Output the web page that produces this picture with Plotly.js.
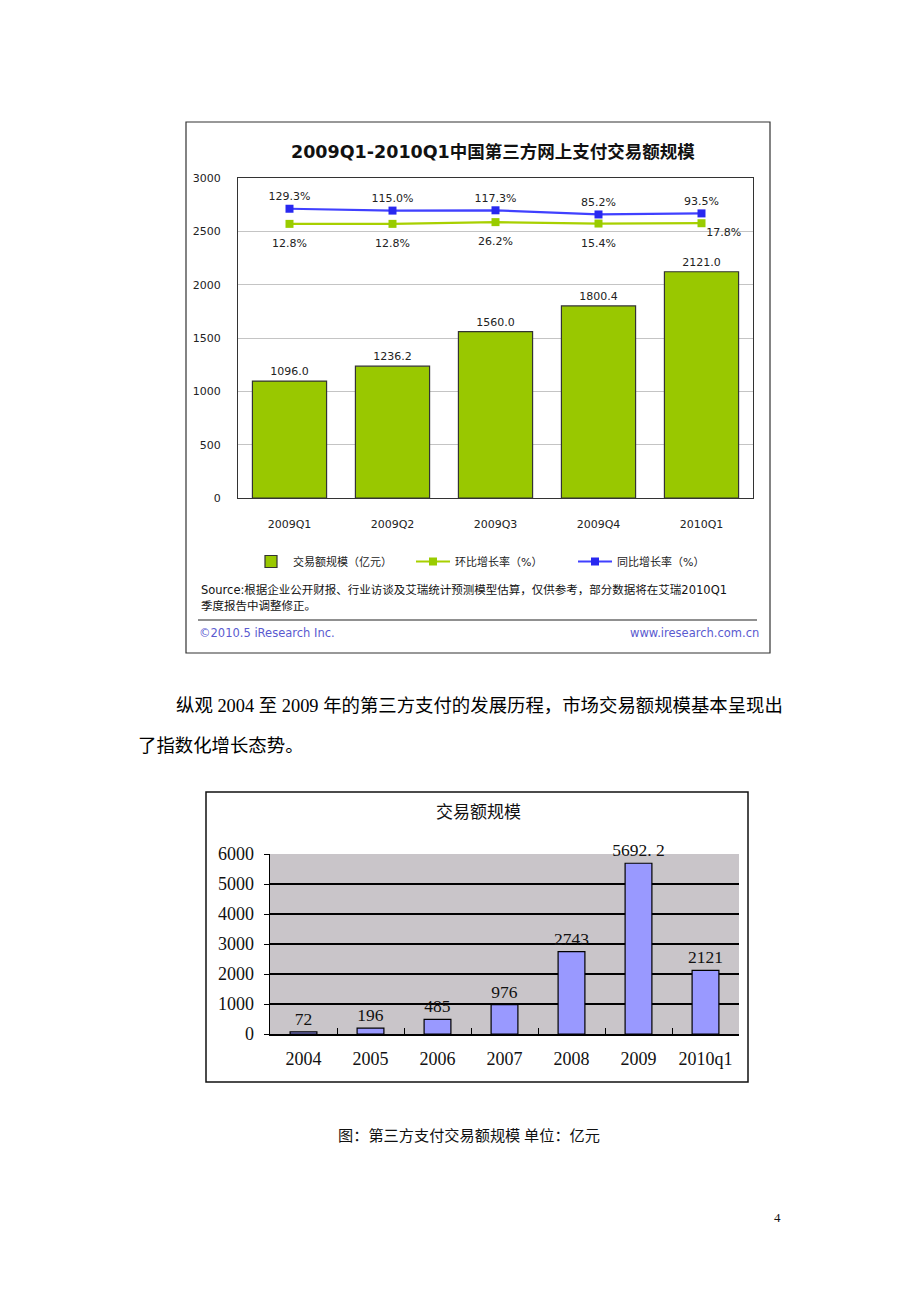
<!DOCTYPE html>
<html>
<head>
<meta charset="utf-8">
<script src="https://cdn.plot.ly/plotly-3.0.1.min.js"></script>
<style>
html,body{margin:0;padding:0;background:#fff;}
#chart{width:920px;height:1302px;}
</style>
</head>
<body>
<div id="chart"></div>
<script>
// ---- data: top chart ----
const quarters = ['2009Q1', '2009Q2', '2009Q3', '2009Q4', '2010Q1'];
const volume = [1096.0, 1236.2, 1560.0, 1800.4, 2121.0];
const qoqRate = [12.8, 12.8, 26.2, 15.4, 17.8];
const yoyRate = [129.3, 115.0, 117.3, 85.2, 93.5];
const topYTicks = [0, 500, 1000, 1500, 2000, 2500, 3000];

// ---- data: bottom chart ----
const years = ['2004', '2005', '2006', '2007', '2008', '2009', '2010q1'];
const annual = [72, 196, 485, 976, 2743, 5692.2, 2121];
const annualLabels = ['72', '196', '485', '976', '2743', '5692. 2', '2121'];
const bottomYTicks = [0, 1000, 2000, 3000, 4000, 5000, 6000];

const W = 920, H = 1302;
const px = x => x / W;
const py = y => 1 - y / H;

const sansFont = 'DejaVu Sans, Noto Sans CJK SC, sans-serif';
const serifFont = 'Liberation Serif, Noto Sans CJK SC, serif';

const traces = [
  {
    type: 'bar', name: '交易额规模（亿元）', x: quarters, y: volume,
    xaxis: 'x', yaxis: 'y', width: 0.72,
    marker: {color: '#99C800', line: {color: '#333333', width: 1.2}},
    text: volume.map(v => v.toFixed(1)), textposition: 'outside', constraintext: 'none',
    textfont: {family: sansFont, size: 11, color: '#222'}, cliponaxis: false,
    hoverinfo: 'none'
  },
  {
    type: 'scatter', mode: 'lines+markers', name: '环比增长率（%）',
    x: quarters, y: qoqRate, xaxis: 'x', yaxis: 'y3',
    line: {color: '#A8D000', width: 2.2},
    marker: {symbol: 'square', size: 8, color: '#99CC00', line: {width: 0}},
    hoverinfo: 'none'
  },
  {
    type: 'scatter', mode: 'lines+markers+text', name: '同比增长率（%）',
    x: quarters, y: yoyRate, xaxis: 'x', yaxis: 'y3',
    line: {color: '#4040FF', width: 2.2},
    marker: {symbol: 'square', size: 8, color: '#2828F0', line: {width: 0}},
    text: yoyRate.map(v => v.toFixed(1) + '%'),
    textposition: 'top center',
    textfont: {family: sansFont, size: 11, color: '#222'}, cliponaxis: false,
    hoverinfo: 'none'
  },
  {
    // labels for the 环比 series, pushed further below the points
    type: 'scatter', mode: 'markers+text', showlegend: false,
    x: quarters, y: qoqRate, xaxis: 'x', yaxis: 'y3',
    marker: {size: [22, 22, 22, 22, 6], color: 'rgba(0,0,0,0)', opacity: 0, line: {width: 0}},
    text: qoqRate.map(v => v.toFixed(1) + '%'),
    textposition: ['bottom center', 'bottom center', 'bottom center', 'bottom center', 'bottom right'],
    textfont: {family: sansFont, size: 11, color: '#222'}, cliponaxis: false,
    hoverinfo: 'none'
  },
  {
    type: 'bar', name: '交易额规模', x: years, y: annual,
    xaxis: 'x2', yaxis: 'y2', width: 0.4, showlegend: false,
    marker: {color: '#9999FF', line: {color: '#000', width: 1.2}},
    text: annualLabels, textposition: 'outside', constraintext: 'none',
    textfont: {family: serifFont, size: 17.5, color: '#111'}, cliponaxis: false,
    hoverinfo: 'none'
  }
];

const ann = (text, x, y, opts) => Object.assign({
  text: text, x: px(x), y: py(y), xref: 'paper', yref: 'paper',
  showarrow: false, xanchor: 'left', yanchor: 'middle',
  font: {family: sansFont, size: 12, color: '#111'}
}, opts || {});

const layout = {
  width: W, height: H,
  margin: {l: 0, r: 0, t: 0, b: 0},
  paper_bgcolor: '#fff', plot_bgcolor: 'rgba(0,0,0,0)',
  showlegend: true,
  legend: {
    orientation: 'h', x: px(249), y: py(547), xanchor: 'left', yanchor: 'top',
    font: {family: sansFont, size: 11, color: '#222'},
    traceorder: 'normal', entrywidth: 113, entrywidthmode: 'pixels',
    bgcolor: 'rgba(0,0,0,0)', itemwidth: 34
  },
  xaxis: {
    type: 'category',
    domain: [px(238), px(753)], anchor: 'y',
    showline: true, linecolor: '#333', linewidth: 1, mirror: true,
    showgrid: false, ticks: '', ticklabelstandoff: 16,
    tickfont: {family: sansFont, size: 11, color: '#222'},
    fixedrange: true
  },
  yaxis: {
    domain: [py(498), py(178)], anchor: 'x', range: [0, 3000],
    tickvals: topYTicks, ticktext: topYTicks.map(String),
    showline: true, linecolor: '#333', linewidth: 1, mirror: true,
    showgrid: true, gridcolor: '#C4C4C4', gridwidth: 1, zeroline: false,
    ticks: '', ticklabelstandoff: 14,
    tickfont: {family: sansFont, size: 11, color: '#222'},
    fixedrange: true
  },
  yaxis3: {
    overlaying: 'y', anchor: 'x', range: [-2098, 366], visible: false,
    fixedrange: true
  },
  xaxis2: {
    type: 'category',
    domain: [px(270), px(739)], anchor: 'y2',
    showline: true, linecolor: '#000', linewidth: 1.5,
    showgrid: false, ticks: 'inside', tickson: 'boundaries', ticklen: 6,
    tickcolor: '#000', ticklabelstandoff: 8,
    tickfont: {family: serifFont, size: 18, color: '#111'},
    fixedrange: true
  },
  yaxis2: {
    domain: [py(1034), py(854)], anchor: 'x2', range: [0, 6000],
    tickvals: bottomYTicks, ticktext: bottomYTicks.map(String),
    showline: true, linecolor: '#000', linewidth: 1.5,
    showgrid: true, gridcolor: '#000', gridwidth: 1.2, zeroline: false,
    ticks: 'outside', ticklen: 5, tickcolor: '#000', ticklabelstandoff: 6,
    tickfont: {family: serifFont, size: 18, color: '#111'},
    fixedrange: true
  },
  shapes: [
    // top chart frame
    {type: 'rect', xref: 'paper', yref: 'paper', x0: px(186), x1: px(770), y0: py(653), y1: py(122),
     line: {color: '#333', width: 1.2}, fillcolor: 'rgba(0,0,0,0)'},
    // source separator
    {type: 'line', xref: 'paper', yref: 'paper', x0: px(198), x1: px(757), y0: py(620), y1: py(620),
     line: {color: '#222', width: 1.2}},
    // bottom chart frame
    {type: 'rect', xref: 'paper', yref: 'paper', x0: px(206), x1: px(748), y0: py(1082), y1: py(792),
     line: {color: '#111', width: 1.5}, fillcolor: 'rgba(0,0,0,0)'},
    // bottom plot background
    {type: 'rect', xref: 'x2 domain', yref: 'y2 domain', x0: 0, x1: 1, y0: 0, y1: 1,
     line: {width: 0}, fillcolor: '#C9C5C9', layer: 'below'}
  ],
  annotations: [
    ann('<b>2009Q1-2010Q1中国第三方网上支付交易额规模</b>', 493, 152,
        {xanchor: 'center', font: {family: sansFont, size: 17.5, color: '#111'}}),
    ann('Source:根据企业公开财报、行业访谈及艾瑞统计预测模型估算，仅供参考，部分数据将在艾瑞2010Q1', 199, 590,
        {font: {family: sansFont, size: 11.5, color: '#111'}}),
    ann('季度报告中调整修正。', 199, 606, {font: {family: sansFont, size: 11.5, color: '#111'}}),
    ann('©2010.5 iResearch Inc.', 197, 633, {font: {family: sansFont, size: 11.5, color: '#5A5AD0'}}),
    ann('www.iresearch.com.cn', 761, 633, {xanchor: 'right', font: {family: sansFont, size: 11.5, color: '#5A5AD0'}}),
    ann('纵观 2004 至 2009 年的第三方支付的发展历程，市场交易额规模基本呈现出', 174, 706,
        {font: {family: serifFont, size: 18.4, color: '#000'}}),
    ann('了指数化增长态势。', 136, 746, {font: {family: serifFont, size: 18.4, color: '#000'}}),
    ann('交易额规模', 478, 812, {xanchor: 'center', font: {family: serifFont, size: 17, color: '#111'}}),
    ann('图：第三方支付交易额规模 单位：亿元', 336, 1135, {font: {family: serifFont, size: 15.2, color: '#111'}}),
    ann('4', 777, 1217, {xanchor: 'center', font: {family: serifFont, size: 13, color: '#111'}})
  ]
};

Plotly.newPlot('chart', traces, layout, {displayModeBar: false, staticPlot: true});
</script>
</body>
</html>
